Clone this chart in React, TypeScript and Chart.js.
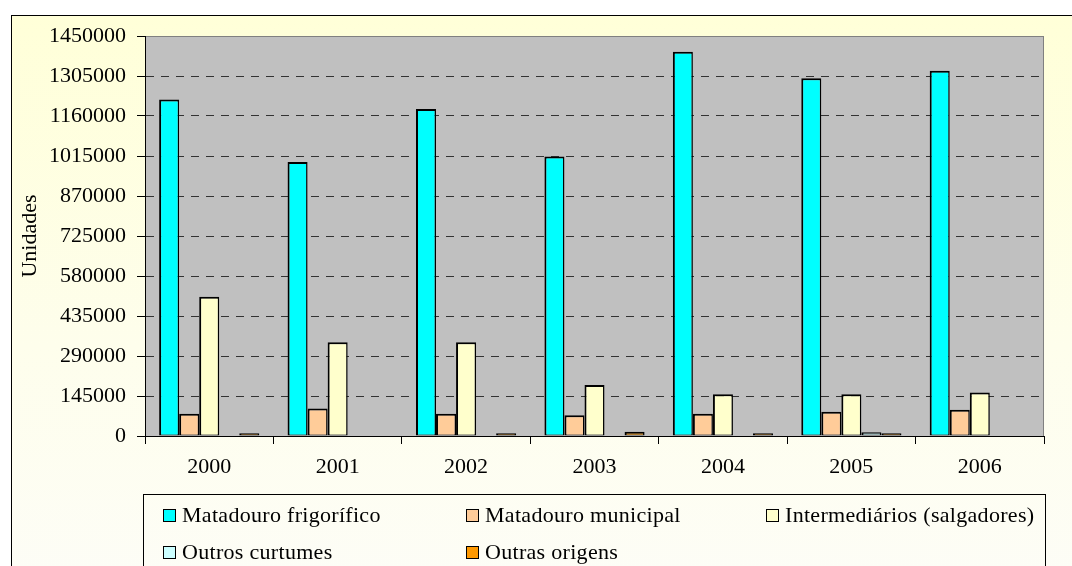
import { useEffect, useRef } from 'react';
import { Chart, registerables } from 'chart.js';

Chart.register(...registerables);

const years = ['2000', '2001', '2002', '2003', '2004', '2005', '2006'];
const matadouroFrigorifico = [1220000, 993000, 1185000, 1013000, 1393000, 1297000, 1324000];
const matadouroMunicipal = [81000, 100000, 81000, 75000, 81000, 88000, 95000];
const intermediarios = [505000, 340000, 340000, 185000, 151000, 151000, 158000];
const outrosCurtumes = [0, 0, 0, 0, 0, 14000, 0];
const outrasOrigens = [10000, 0, 10000, 15000, 10000, 10000, 0];
const yTickValues = [0, 145000, 290000, 435000, 580000, 725000, 870000, 1015000, 1160000, 1305000, 1450000];

const seriesNames = [
  'Matadouro frigorífico',
  'Matadouro municipal',
  'Intermediários (salgadores)',
  'Outros curtumes',
  'Outras origens',
];
const seriesColors = ['#00FFFF', '#FFCC99', '#FFFFCC', '#CCFFFF', '#FF9900'];
const seriesData = [matadouroFrigorifico, matadouroMunicipal, intermediarios, outrosCurtumes, outrasOrigens];

const FONT = '"Liberation Serif", "Times New Roman", serif';

const plotBg = {
  id: 'plotBg',
  beforeDraw(chart: any) {
    const { ctx, chartArea } = chart;
    if (!chartArea) return;
    ctx.save();
    ctx.fillStyle = '#C0C0C0';
    ctx.fillRect(chartArea.left, chartArea.top, chartArea.right - chartArea.left, chartArea.bottom - chartArea.top);
    ctx.strokeStyle = '#808080';
    ctx.lineWidth = 1;
    ctx.strokeRect(chartArea.left + 0.5, chartArea.top + 0.5, chartArea.right - chartArea.left - 1, chartArea.bottom - chartArea.top);
    ctx.restore();
  },
};

export default function App() {
  const ref = useRef<HTMLCanvasElement>(null);

  useEffect(() => {
    if (!ref.current) return;
    const chart = new Chart(ref.current, {
      type: 'bar',
      data: {
        labels: years,
        datasets: seriesData.map((d, i) => ({
          label: seriesNames[i],
          data: d,
          backgroundColor: seriesColors[i],
          borderColor: '#000000',
          borderWidth: { top: 2, left: 2, right: 1.5, bottom: 1 },
          borderSkipped: false,
          barPercentage: 1,
          categoryPercentage: 0.78,
        })),
      },
      options: {
        responsive: false,
        animation: false,
        layout: { padding: { left: 0, top: 36, right: 28, bottom: 0 } },
        plugins: {
          legend: { display: false },
          tooltip: { enabled: false },
        },
        scales: {
          x: {
            grid: {
              display: true,
              drawOnChartArea: false,
              drawTicks: true,
              tickLength: 8,
              tickColor: '#000',
              offset: true,
            },
            border: { display: true, color: '#000', width: 1 },
            ticks: {
              color: '#000',
              font: { family: FONT, size: 22 },
              padding: 10,
              maxRotation: 0,
            },
            afterFit(scale: any) {
              scale.height = 130;
            },
          },
          y: {
            min: 0,
            max: 1450000,
            afterBuildTicks(scale: any) {
              scale.ticks = yTickValues.map((v) => ({ value: v }));
            },
            grid: {
              color: (ctx: any) =>
                ctx.tick && (ctx.tick.value === 0 || ctx.tick.value === 1450000) ? 'rgba(0,0,0,0)' : '#333333',
              lineWidth: 1,
              tickLength: 8,
              tickColor: '#000',
              tickBorderDash: [],
            },
            border: { display: true, color: '#000', width: 1, dash: [8, 7] },
            ticks: {
              color: '#000',
              font: { family: FONT, size: 22 },
              padding: 11,
              callback: (v: any) => String(v),
            },
            title: {
              display: true,
              text: 'Unidades',
              color: '#000',
              font: { family: FONT, size: 22 },
              padding: { top: 17, bottom: 0 },
            },
            afterFit(scale: any) {
              scale.width = 145;
            },
          },
        },
      },
      plugins: [plotBg],
    });
    return () => chart.destroy();
  }, []);

  const legendPos = [
    { x: 163, y: 515 },
    { x: 466, y: 515 },
    { x: 766, y: 515 },
    { x: 163, y: 552 },
    { x: 466, y: 552 },
  ];

  return (
    <div style={{ position: 'fixed', left: 0, top: 0, width: 1072, height: 566, overflow: 'hidden', background: '#fff' }}>
      <div
        style={{
          position: 'absolute',
          left: 11,
          top: 15,
          width: 1100,
          height: 600,
          border: '1px solid #000',
          background: 'linear-gradient(to bottom, #FFFFD8 0%, #FEFEEC 55%, #FDFDF8 100%)',
        }}
      />
      <canvas
        ref={ref}
        width={1072}
        height={566}
        style={{ position: 'absolute', left: 0, top: 0, width: 1072, height: 566 }}
      />
      <div
        style={{
          position: 'absolute',
          left: 143,
          top: 494,
          width: 901,
          height: 120,
          border: '1px solid #000',
        }}
      />
      {seriesNames.map((name, i) => (
        <div
          key={name}
          style={{
            position: 'absolute',
            left: legendPos[i].x,
            top: legendPos[i].y - 14,
            height: 28,
            display: 'flex',
            alignItems: 'center',
            fontFamily: FONT,
            fontSize: 22,
            letterSpacing: '0.3px',
            color: '#000',
            whiteSpace: 'nowrap',
          }}
        >
          <span
            style={{
              display: 'inline-block',
              width: 11,
              height: 11,
              border: '1.5px solid #000',
              background: seriesColors[i],
              marginRight: 6,
            }}
          />
          <span>{name}</span>
        </div>
      ))}
    </div>
  );
}
